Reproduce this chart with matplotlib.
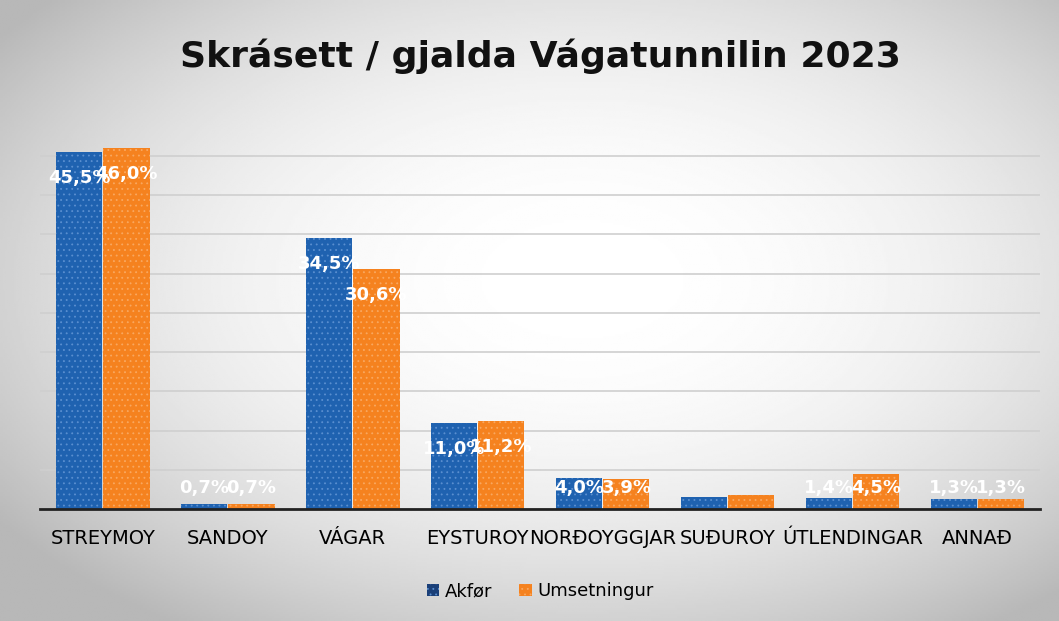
import matplotlib.pyplot as plt
import numpy as np

categories = ["STREYMOY", "SANDOY", "VÁGAR", "EYSTUROY", "NORÐOYGGJAR",
              "SUÐUROY", "ÚTLENDINGAR", "ANNAÐ"]
akfor = [45.5, 0.7, 34.5, 11.0, 4.0, 1.6, 1.4, 1.3]
umsetningur = [46.0, 0.7, 30.6, 11.2, 3.9, 1.8, 4.5, 1.3]
# the reference shows no value labels on the SUÐUROY bars
labelled = [True, True, True, True, True, False, True, True]

BLUE = "#1f62b0"
ORANGE = "#f5821f"


def fmt(v):
    return f"{v:.1f}".replace(".", ",") + "%"


def main() -> None:
    fig = plt.figure(figsize=(10.59, 6.21), dpi=100)

    # photo-like vignette behind the chart
    bg = fig.add_axes([0, 0, 1, 1], zorder=-10)
    yy, xx = np.mgrid[0:1:300j, 0:1:500j]
    r = np.sqrt(((xx - 0.55) / 0.75) ** 2 + ((yy - 0.45) / 0.75) ** 2)
    shade = np.clip(1.0 - 0.35 * r ** 2.2, 0.72, 1.0)
    bg.imshow(shade, cmap="gray", vmin=0, vmax=1, aspect="auto", extent=(0, 1, 0, 1))
    bg.axis("off")

    ax = fig.add_axes([0.038, 0.18, 0.944, 0.632])
    ax.patch.set_alpha(0)

    x = np.arange(len(categories))
    width = 0.37
    plt.rcParams["hatch.linewidth"] = 0.6
    bars1 = ax.bar(x - width / 2 - 0.005, akfor, width=width, color=BLUE,
                   edgecolor="#5a8fd0", linewidth=0, hatch="...", label="Akfør", zorder=3)
    bars2 = ax.bar(x + width / 2 + 0.005, umsetningur, width=width, color=ORANGE,
                   edgecolor="#f9a860", linewidth=0, hatch="...", label="Umsetningur", zorder=3)

    for bars, values in [(bars1, akfor), (bars2, umsetningur)]:
        for bar, value, show in zip(bars, values, labelled):
            if not show:
                continue
            ax.text(bar.get_x() + bar.get_width() / 2, max(value - 3.3, 2.7), fmt(value),
                    ha="center", va="center", color="white", fontsize=13,
                    fontweight="bold", zorder=5)

    ax.set_xlim(-0.5, len(categories) - 0.5)
    ax.set_ylim(0, 50)
    ax.set_yticks(np.arange(0, 46, 5))
    ax.set_yticklabels([])
    ax.tick_params(axis="y", length=0)
    ax.tick_params(axis="x", length=0, pad=14, labelsize=14)
    ax.set_xticks(x)
    ax.set_xticklabels(categories)
    ax.grid(axis="y", color="#cfcfcf", linewidth=1.2, zorder=0)
    for side in ["top", "right", "left"]:
        ax.spines[side].set_visible(False)
    ax.spines["bottom"].set_color("#222222")
    ax.spines["bottom"].set_linewidth(2)
    ax.spines["bottom"].set_zorder(4)

    fig.text(0.51, 0.91, "Skrásett / gjalda Vágatunnilin 2023", ha="center", va="center",
             fontsize=26, fontweight="bold", color="#111111")

    leg = ax.legend(loc="upper center", bbox_to_anchor=(0.5, -0.145), ncol=2, frameon=False,
                    fontsize=13, handlelength=0.7, handleheight=0.7, columnspacing=1.5,
                    handletextpad=0.3)
    leg.legend_handles[0].set_facecolor("#1a3f78")

    fig.savefig("out.png", dpi=100)


if __name__ == "__main__":
    main()
